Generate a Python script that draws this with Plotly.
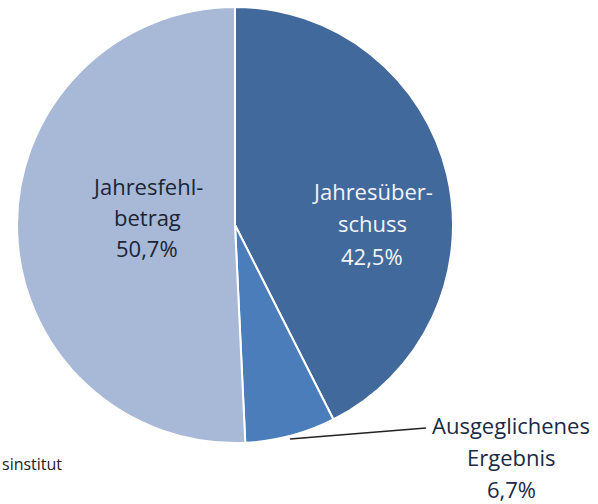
import plotly.graph_objects as go

W, H = 598, 504

categories = ["Jahresüberschuss", "Ausgeglichenes Ergebnis", "Jahresfehlbetrag"]
values = [42.5, 6.7, 50.7]
label_lines = [
    ["Jahresüber-", "schuss", "42,5%"],
    ["Ausgeglichenes", "Ergebnis", "6,7%"],
    ["Jahresfehl-", "betrag", "50,7%"],
]
colors = ["#41699B", "#4A7DBA", "#A8B9D7"]
text_colors = ["#F4F4F4", "#1A2A46", "#1A2536"]
source_text = "sinstitut"

def px(x):
    return x / W

def py(y):
    return 1 - y / H

fig = go.Figure(go.Pie(
    labels=categories,
    values=values,
    sort=False,
    direction="clockwise",
    rotation=0,
    marker=dict(colors=colors, line=dict(color="white", width=2)),
    textinfo="none",
    hoverinfo="label+percent",
    showlegend=False,
    domain=dict(x=[px(17), px(453)], y=[py(443), py(7)]),
))

# label anchor positions (pixel centres of each line)
label_pos = [
    (372, [191, 223, 256]),
    (511, [425, 457, 489]),
    (147, [186, 217, 248]),
]
FONT = "Open Sans, DejaVu Sans, sans-serif"
annotations = []
for lines, (cx, ys), tc in zip(label_lines, label_pos, text_colors):
    for line, y in zip(lines, ys):
        annotations.append(dict(
            x=px(cx), y=py(y), xref="paper", yref="paper",
            text=line, showarrow=False, xanchor="center", yanchor="middle",
            font=dict(family=FONT, size=22, color=tc),
        ))

annotations.append(dict(
    x=px(0), y=py(464), xref="paper", yref="paper",
    text=source_text, showarrow=False, xanchor="left", yanchor="middle",
    font=dict(family=FONT, size=16, color="#222222"),
))

fig.update_layout(
    width=W, height=H,
    margin=dict(l=0, r=0, t=0, b=0),
    paper_bgcolor="white",
    plot_bgcolor="white",
    annotations=annotations,
    shapes=[dict(type="line", xref="paper", yref="paper",
                 x0=px(290), y0=py(439), x1=px(426), y1=py(428),
                 line=dict(color="#222222", width=1.5))],
)

fig.write_html(
    "out.html",
    config={"displayModeBar": False},
    post_script="document.body.style.margin='0';document.body.style.overflow='hidden';",
)
